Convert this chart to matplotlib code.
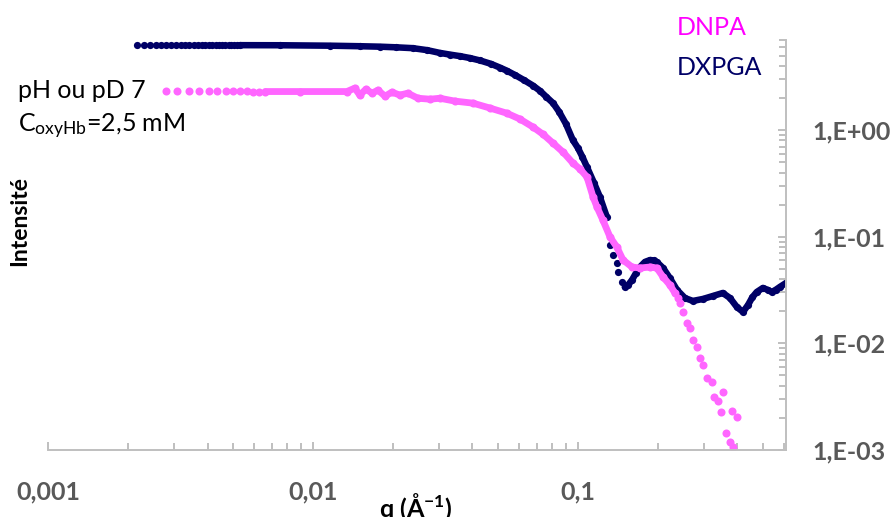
import numpy as np
import matplotlib.pyplot as plt
from matplotlib.ticker import LogLocator, NullFormatter

# DXPGA (navy) - q in 1/A, intensity
dxpga_q = [0.00217, 0.00230, 0.00242, 0.00255, 0.00267, 0.00280, 0.00292, 0.00305,
           0.00317, 0.00330, 0.00342, 0.00355, 0.00367, 0.00380, 0.00392, 0.00405,
           0.00417, 0.00430, 0.00442, 0.00455, 0.00467, 0.00480, 0.00492, 0.00505,
           0.00517, 0.00530,
           0.0075, 0.0116, 0.0150, 0.0179, 0.0205, 0.0238, 0.0270, 0.0301, 0.0330,
           0.0359, 0.0390, 0.0427, 0.0470, 0.0510, 0.0540, 0.0580, 0.0625, 0.0676,
           0.0720, 0.0760, 0.0806, 0.0850, 0.0900, 0.0957, 0.1000, 0.1040, 0.1082,
           0.1150, 0.1211, 0.1286,
           0.1322, 0.1355, 0.1402, 0.1415, 0.1466, 0.1503,
           0.1550, 0.1600, 0.1655, 0.1714, 0.1790, 0.1871, 0.1930, 0.1986, 0.2096,
           0.2223, 0.2366, 0.2535, 0.2716, 0.2966, 0.3228, 0.3523, 0.3750, 0.3981,
           0.4198, 0.4385, 0.4550, 0.4729, 0.4990, 0.5200, 0.5395, 0.5600, 0.5781,
           0.6095]
dxpga_i = [6.30, 6.30, 6.30, 6.30, 6.30, 6.30, 6.30, 6.30,
           6.30, 6.30, 6.30, 6.30, 6.30, 6.29, 6.29, 6.29,
           6.29, 6.28, 6.28, 6.28, 6.28, 6.27, 6.27, 6.27,
           6.26, 6.26,
           6.25, 6.19, 6.12, 6.06, 5.98, 5.87, 5.62, 5.30, 5.10,
           4.94, 4.75, 4.50, 4.18, 3.84, 3.60, 3.28, 2.95, 2.62,
           2.33, 2.05, 1.79, 1.48, 1.15, 0.806, 0.68, 0.56, 0.45,
           0.32, 0.2356, 0.153,
           0.0836, 0.0674, 0.0567, 0.0467, 0.0376, 0.0338,
           0.0355, 0.0393, 0.0455, 0.0520, 0.0580, 0.0605, 0.0600, 0.0579, 0.0509,
           0.0410, 0.0317, 0.0266, 0.0250, 0.0261, 0.0278, 0.0297, 0.0266, 0.0219,
           0.0197, 0.0229, 0.0270, 0.0303, 0.0331, 0.0318, 0.0303, 0.0320, 0.0338,
           0.0368]

# DNPA (pink)
dnpa_q = [0.00278, 0.00308, 0.00340, 0.00371, 0.00405, 0.00436, 0.00469, 0.00500,
          0.00532, 0.00564, 0.00596, 0.00628,
          0.00660, 0.00893, 0.01343, 0.01438, 0.01502, 0.01585, 0.01671, 0.01758,
          0.01871, 0.01986, 0.02128, 0.02280, 0.02489, 0.02767, 0.03013, 0.03436,
          0.04018, 0.04656, 0.05395, 0.06039, 0.06761, 0.0740, 0.08055, 0.0880,
          0.09572, 0.1020, 0.1082, 0.1141, 0.1180, 0.1242, 0.1322, 0.1402, 0.1480,
          0.1600, 0.1714, 0.1871, 0.1986, 0.2096, 0.2223, 0.2323,
          0.2384, 0.2427, 0.2488, 0.2576, 0.2649, 0.2716, 0.2812, 0.2884, 0.2966,
          0.3069, 0.3206, 0.3258, 0.3373, 0.3467, 0.3523, 0.3614, 0.3750, 0.3811,
          0.3846, 0.3981]
dnpa_i = [2.32, 2.32, 2.32, 2.32, 2.32, 2.31, 2.31, 2.31,
          2.31, 2.31, 2.30, 2.30,
          2.30, 2.30, 2.30, 2.475, 2.13, 2.42, 2.22, 2.37,
          2.08, 2.27, 2.13, 2.22, 1.99, 1.95, 1.99, 1.87,
          1.79, 1.61, 1.44, 1.27, 1.07, 0.91, 0.755, 0.62,
          0.491, 0.43, 0.363, 0.2356, 0.19, 0.1434, 0.0994, 0.0801, 0.0605,
          0.0520, 0.0509, 0.0520, 0.0509, 0.0419, 0.0353, 0.0297,
          0.0266, 0.0239, 0.0197, 0.0155, 0.0139, 0.01076, 0.00925, 0.00730, 0.00628,
          0.00474, 0.00435, 0.00315, 0.00289, 0.00228, 0.00351, 0.00145, 0.00119, 0.00232,
          0.00107, 0.00204]

x_ticks = [0.001, 0.01, 0.1]
x_labels = ["0,001", "0,01", "0,1"]
y_ticks = [1e-3, 1e-2, 1e-1, 1e0]
y_labels = ["1,E-03", "1,E-02", "1,E-01", "1,E+00"]

navy = "#000066"
pink = "#FF66FF"
grey = "#BFBFBF"


def main():
    plt.rcParams['font.family'] = ['Lato', 'DejaVu Sans']
    plt.rcParams['mathtext.fontset'] = 'custom'
    plt.rcParams['mathtext.rm'] = 'Lato'
    plt.rcParams['mathtext.it'] = 'Lato:italic'
    plt.rcParams['mathtext.bf'] = 'Lato:bold'

    W, H = 893, 517
    fig = plt.figure(figsize=(W / 100, H / 100), dpi=100)
    ax = fig.add_axes([48 / W, 67 / H, 738 / W, 410 / H])

    nq = np.array(dxpga_q)
    ni = np.array(dxpga_i)
    n_line = ni.copy()
    n_line[(nq < 0.0053) | ((nq > 0.13) & (nq < 0.15))] = np.nan

    pq = np.array(dnpa_q)
    pi = np.array(dnpa_i)
    p_line = pi.copy()
    p_line[(pq < 0.0065) | (pq > 0.235)] = np.nan

    ax.plot(nq, n_line, color=navy, lw=4.7, solid_capstyle='round', solid_joinstyle='round')
    ax.plot(nq, ni, 'o', color=navy, ms=5.2, mew=0)
    ax.plot(pq, p_line, color=pink, lw=4.9, solid_capstyle='round', solid_joinstyle='round')
    ax.plot(pq, pi, 'o', color=pink, ms=5.8, mew=0)

    ax.set_xscale('log')
    ax.set_yscale('log')
    ax.set_xlim(0.001, 0.61)
    ax.set_ylim(1e-3, 7)

    ax.set_xticks(x_ticks)
    ax.set_xticklabels(x_labels)
    ax.set_yticks(y_ticks)
    ax.set_yticklabels(y_labels)
    ax.xaxis.set_minor_locator(LogLocator(subs=np.arange(2, 10)))
    ax.yaxis.set_minor_locator(LogLocator(subs=np.arange(2, 10)))
    ax.xaxis.set_minor_formatter(NullFormatter())
    ax.yaxis.set_minor_formatter(NullFormatter())

    ax.yaxis.tick_right()
    for s in ['top', 'left']:
        ax.spines[s].set_visible(False)
    for s in ['bottom', 'right']:
        ax.spines[s].set_color(grey)
        ax.spines[s].set_linewidth(1.4)

    ax.tick_params(axis='both', which='both', direction='in', color=grey, width=1.4)
    ax.tick_params(which='major', length=6)
    ax.tick_params(which='minor', length=5)
    ax.tick_params(axis='x', which='major', pad=22, labelsize=18, labelcolor="#595959")
    ax.tick_params(axis='y', which='major', pad=19, labelsize=18, labelcolor="#595959")
    for lab in ax.get_xticklabels() + ax.get_yticklabels():
        lab.set_fontweight('bold')

    fig.text(416 / W, 1 - 517 / H, r"q (Å$^{\mathbf{-1}}$)", ha='center', va='baseline',
             fontsize=18, fontweight='bold')
    fig.text(20 / W, 1 - 221 / H, "Intensité", rotation=90, ha='center', va='center',
             fontsize=16.5, fontweight='bold')

    fig.text(18 / W, 1 - 98 / H, "pH ou pD 7", ha='left', va='baseline', fontsize=18)
    fig.text(18 / W, 1 - 132 / H, r"C$_{\mathrm{oxyHb}}$=2,5 mM", ha='left', va='baseline',
             fontsize=18)
    fig.text(677 / W, 1 - 35 / H, "DNPA", ha='left', va='baseline', fontsize=18,
             color="#FF00FF")
    fig.text(677 / W, 1 - 75 / H, "DXPGA", ha='left', va='baseline', fontsize=18,
             color=navy)

    fig.savefig("out.png")
    plt.close("all")


if __name__ == "__main__":
    main()
